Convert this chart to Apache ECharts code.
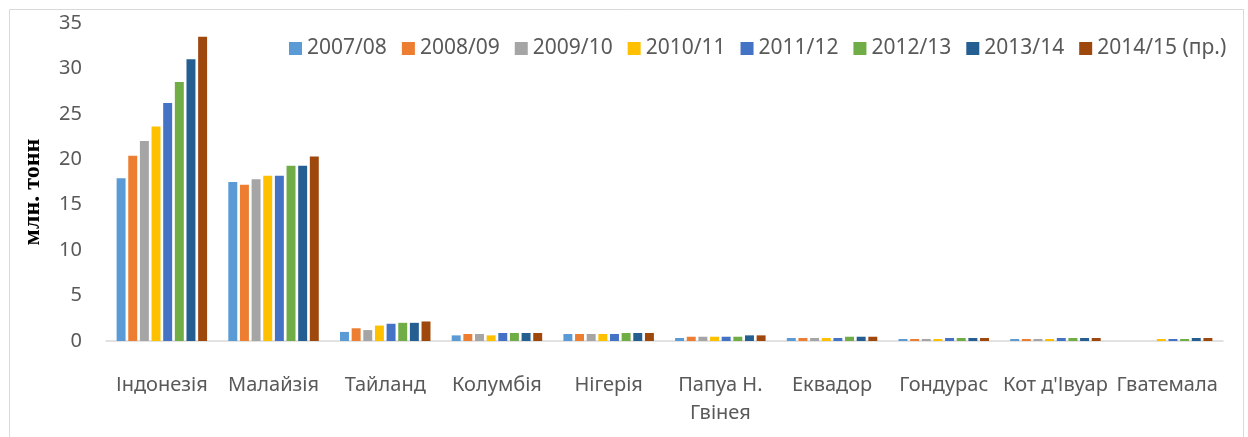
<!DOCTYPE html>
<html>
<head>
<meta charset="utf-8">
<script src="https://cdn.jsdelivr.net/npm/echarts@6/dist/echarts.min.js"></script>
<style>html,body{margin:0;padding:0;background:#fff;}#chart{width:1248px;height:437px;}</style>
</head>
<body>
<div id="chart"></div>
<script>
const categories = ['Індонезія','Малайзія','Тайланд','Колумбія','Нігерія','Папуа Н.\nГвінея','Еквадор','Гондурас',"Кот д'Івуар",'Гватемала'];
const seriesNames = ['2007/08','2008/09','2009/10','2010/11','2011/12','2012/13','2013/14','2014/15 (пр.)'];
const s2007 = [17.9, 17.5, 1.0, 0.62, 0.77, 0.33, 0.33, 0.22, 0.22, null];
const s2008 = [20.4, 17.2, 1.4, 0.77, 0.77, 0.47, 0.33, 0.22, 0.22, null];
const s2009 = [22.0, 17.8, 1.2, 0.77, 0.77, 0.47, 0.33, 0.22, 0.22, null];
const s2010 = [23.6, 18.2, 1.7, 0.62, 0.77, 0.47, 0.33, 0.22, 0.22, 0.22];
const s2011 = [26.2, 18.2, 1.9, 0.88, 0.77, 0.47, 0.33, 0.33, 0.33, 0.22];
const s2012 = [28.5, 19.3, 2.0, 0.88, 0.88, 0.47, 0.47, 0.33, 0.33, 0.22];
const s2013 = [31.0, 19.3, 2.0, 0.88, 0.88, 0.62, 0.47, 0.33, 0.33, 0.33];
const s2014 = [33.5, 20.3, 2.15, 0.88, 0.88, 0.62, 0.47, 0.33, 0.33, 0.33];
const yTicks = [0, 5, 10, 15, 20, 25, 30, 35];
const yAxisTitle = 'млн. тонн';
const colors = ['#5B9BD5','#ED7D31','#A5A5A5','#FFC000','#4472C4','#70AD47','#255E91','#9E480E'];
const allSeries = [s2007, s2008, s2009, s2010, s2011, s2012, s2013, s2014];

const chart = echarts.init(document.getElementById('chart'), null, {renderer: 'canvas'});
const FONT = '"Noto Sans", "DejaVu Sans", sans-serif';
chart.setOption({
  animation: false,
  color: colors,
  graphic: [{
    type: 'rect', left: 7, top: 7, silent: true,
    shape: {width: 1234, height: 428},
    style: {fill: 'none', stroke: '#D9D9D9', lineWidth: 1}
  }, {
    type: 'text', x: 33, y: 192, rotation: Math.PI / 2, silent: true,
    style: {
      text: yAxisTitle, align: 'center', verticalAlign: 'middle',
      font: 'bold 24px "Liberation Serif", serif', fill: '#000'
    }
  }],
  grid: {left: 106, right: 25, top: 23, bottom: 96, containLabel: false},
  legend: {
    left: 289, top: 38, padding: 0,
    itemWidth: 13, itemHeight: 13, itemGap: 15,
    icon: 'rect',
    textStyle: {fontFamily: FONT, fontSize: 21, color: '#595959'},
    data: seriesNames
  },
  xAxis: {
    type: 'category',
    data: categories,
    axisLine: {lineStyle: {color: '#D9D9D9', width: 1.5}},
    axisTick: {show: false},
    axisLabel: {fontFamily: FONT, fontSize: 20, color: '#595959', margin: 30, lineHeight: 28, interval: 0}
  },
  yAxis: {
    type: 'value',
    min: yTicks[0], max: yTicks[yTicks.length - 1], interval: 5,
    axisLine: {show: false},
    axisTick: {show: false},
    splitLine: {show: false},
    axisLabel: {fontFamily: FONT, fontSize: 20, color: '#595959', margin: 24}
  },
  series: seriesNames.map((n, i) => ({
    name: n,
    type: 'bar',
    data: allSeries[i],
    barGap: '30%',
    barCategoryGap: '19%',
    itemStyle: {color: colors[i]}
  }))
});
</script>
</body>
</html>
